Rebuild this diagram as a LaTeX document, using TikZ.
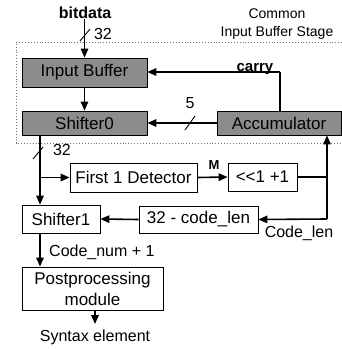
\documentclass[tikz,border=0pt]{standalone}
\usepackage{fontspec}
\setmainfont{Liberation Sans}
\usetikzlibrary{arrows.meta}
\begin{document}
\begin{tikzpicture}[x=1pt,y=-1pt,
  box/.style={draw,line width=0.8pt,inner sep=0pt,font=\fontsize{17}{19}\selectfont},
  gbox/.style={box,fill=black!45},
  lbl/.style={inner sep=0pt,font=\fontsize{16}{18}\selectfont},
  conn/.style={line width=1.6pt,-{Triangle[length=9pt,width=7.5pt]}},
  wire/.style={line width=1.6pt},
  busmark/.style={line width=0.9pt}]
\useasboundingbox (0,0) rectangle (342,349);

% stage frame
\draw[dotted,black!55,line width=0.9pt] (342,42) -- (16,42) -- (16,143) -- (342,143);
\node[lbl,align=center,font=\fontsize{14}{18}\selectfont] (stage) at (277,24) {Common\\Input Buffer Stage};

% blocks
\node[gbox,minimum width=125pt,minimum height=29pt] (ib) at (84.5,72.5) {Input Buffer};
\node[gbox,minimum width=125pt,minimum height=24pt] (s0) at (84.5,123) {Shifter0};
\node[gbox,minimum width=124pt,minimum height=24pt] (acc) at (279,123) {Accumulator};
\node[box,minimum width=127pt,minimum height=29pt] (fd) at (133.5,177.5) {First 1 Detector};
\node[box,minimum width=69pt,minimum height=28pt] (sh) at (262.5,177) {{<}{<}1 +1};
\node[box,minimum width=119pt,minimum height=27pt] (cl) at (198.5,219.5) {32 - code\_len};
\node[box,minimum width=78pt,minimum height=28pt] (s1) at (61,219) {Shifter1};
\node[box,minimum width=141pt,minimum height=43pt,align=center,font=\fontsize{17}{21}\selectfont] (pp) at (92.5,288.5) {Postprocessing\\module};

% labels
\node[lbl,font=\bfseries\fontsize{16}{18}\selectfont] (bd) at (85,13) {bitdata};
\node[lbl] (n32a) at (103,34) {32};
\node[lbl,font=\bfseries\fontsize{15}{18}\selectfont] (carry) [anchor=base] at (255,71) {carry};
\node[lbl] (n5) at (190,103) {5};
\node[lbl] (n32b) at (62,150) {32};
\node[lbl,font=\bfseries\fontsize{13}{16}\selectfont] (m) at (214,165) {M};
\node[lbl] (clen) at (299,233) {Code\_len};
\node[lbl] (cnum) [anchor=west] at (49,252) {Code\_num + 1};
\node[lbl] (syn) at (95,337) {Syntax element};

% junctions
\coordinate (j1) at (40,177.5);
\coordinate (j2) at (327,177);
\coordinate (j3) at (327,219);
\coordinate (cr) at (280,72);
\coordinate (out) at (95,324);

% connectors
\draw[conn] (bd.south -| ib.north) -- (ib.north);
\draw[busmark] (80,41) -- (90,29);
\draw[conn] (ib.south) -- (s0.north);
\draw[wire] (acc.north -| cr) -- (cr);
\draw[conn] (cr) -- (cr -| ib.east);
\draw[conn] (acc.west) -- (s0.east);
\draw[busmark] (185,130) -- (195,116);
\draw[conn] (s0.south -| j1) -- (j1 |- s1.north);
\draw[busmark] (33,159) -- (43,147);
\draw[conn] (j1) -- (fd.west);
\draw[conn] (fd.east) -- (sh.west);
\draw[wire] (sh.east) -- (j2);
\draw[conn] (j3) -- (j3 |- acc.south);
\draw[conn] (j3) -- (cl.east);
\draw[conn] (cl.west) -- (s1.east);
\draw[conn] (s1.south -| j1) -- (j1 |- pp.north);
\draw[conn] (pp.south -| out) -- (out);
\end{tikzpicture}
\end{document}
